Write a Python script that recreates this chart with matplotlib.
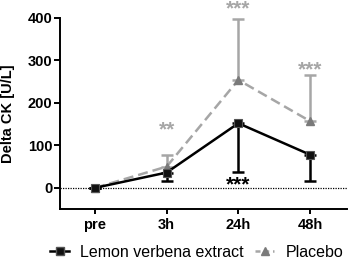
import matplotlib
matplotlib.use("Agg")
import matplotlib.pyplot as plt
from matplotlib.lines import Line2D

plt.rcParams['font.family'] = ['Liberation Sans', 'DejaVu Sans']

timepoints = ["pre", "3h", "24h", "48h"]
lemon_mean = [0, 36, 152, 78]
lemon_err_low = [0, 20, 114, 61]
placebo_mean = [0, 50, 254, 157]
placebo_err_high = [0, 27, 144, 109]

# significance annotations: (index, y value, text)
sig_placebo = [(1, 137, "**"), (2, 420, "***"), (3, 277, "***")]
sig_lemon = [(2, 6, "***")]

fig = plt.figure(figsize=(3.48, 2.63), dpi=100)
ax = fig.add_axes([0.172, 0.205, 0.826, 0.727])

x = list(range(len(timepoints)))
pl_line = "#a6a6a6"
pl_mark = "#7a7a7a"

ax.errorbar(x, placebo_mean, yerr=[[0]*4, placebo_err_high], fmt='none',
            ecolor=pl_line, elinewidth=1.8, capsize=4, capthick=1.8, zorder=2)
ax.plot(x, placebo_mean, color=pl_line, linestyle=(0, (4, 2)), linewidth=1.8,
        marker='^', markersize=6, markerfacecolor=pl_mark, markeredgecolor=pl_mark, zorder=3)

ax.errorbar(x, lemon_mean, yerr=[lemon_err_low, [0]*4], fmt='none',
            ecolor='black', elinewidth=1.8, capsize=4, capthick=1.8, zorder=4)
ax.plot(x, lemon_mean, color='black', linewidth=1.8, marker='s', markersize=6,
        markerfacecolor='#111111', markeredgecolor='#555555', markeredgewidth=0.8, zorder=5)

ax.axhline(0, color='black', linestyle=(0, (1, 1)), linewidth=0.9, zorder=1)

for i, yv, t in sig_placebo:
    ax.text(x[i], yv, t, color="#a6a6a6", ha='center', va='center', fontsize=15,
            fontweight='bold', clip_on=False)
for i, yv, t in sig_lemon:
    ax.text(x[i], yv, t, color="black", ha='center', va='center', fontsize=15,
            fontweight='bold', clip_on=False)

ax.set_xlim(-0.49, 3.52)
ax.set_ylim(-50, 400)
ax.set_yticks([0, 100, 200, 300, 400])
ax.set_xticks(x)
ax.set_xticklabels(timepoints)
for lab in ax.get_xticklabels() + ax.get_yticklabels():
    lab.set_fontweight('bold')
    lab.set_fontsize(10.5)
ax.set_ylabel("Delta CK [U/L]", fontsize=10.5, fontweight='bold')
ax.yaxis.set_label_coords(-0.157, 0.5)

for s in ['top', 'right']:
    ax.spines[s].set_visible(False)
for s in ['left', 'bottom']:
    ax.spines[s].set_linewidth(1.4)
ax.tick_params(axis='y', width=1.4, length=4.5, pad=1)
ax.tick_params(axis='x', width=1.4, length=3.5, pad=3)

handles = [
    Line2D([], [], color='black', linewidth=1.8, marker='s', markersize=6,
           markerfacecolor='#111111', markeredgecolor='#555555'),
    Line2D([], [], color=pl_line, linestyle=(0, (2, 1.5)), linewidth=1.8, marker='^',
           markersize=6, markerfacecolor=pl_mark, markeredgecolor=pl_mark),
]
fig.legend(handles, ["Lemon verbena extract", "Placebo"], loc='center left',
           bbox_to_anchor=(50 / 348, 0.04), ncol=2, frameon=False, fontsize=11.5,
           handlelength=1.2, handletextpad=0.7, columnspacing=0.7, borderpad=0,
           borderaxespad=0)

fig.savefig("out.png", dpi=100)
